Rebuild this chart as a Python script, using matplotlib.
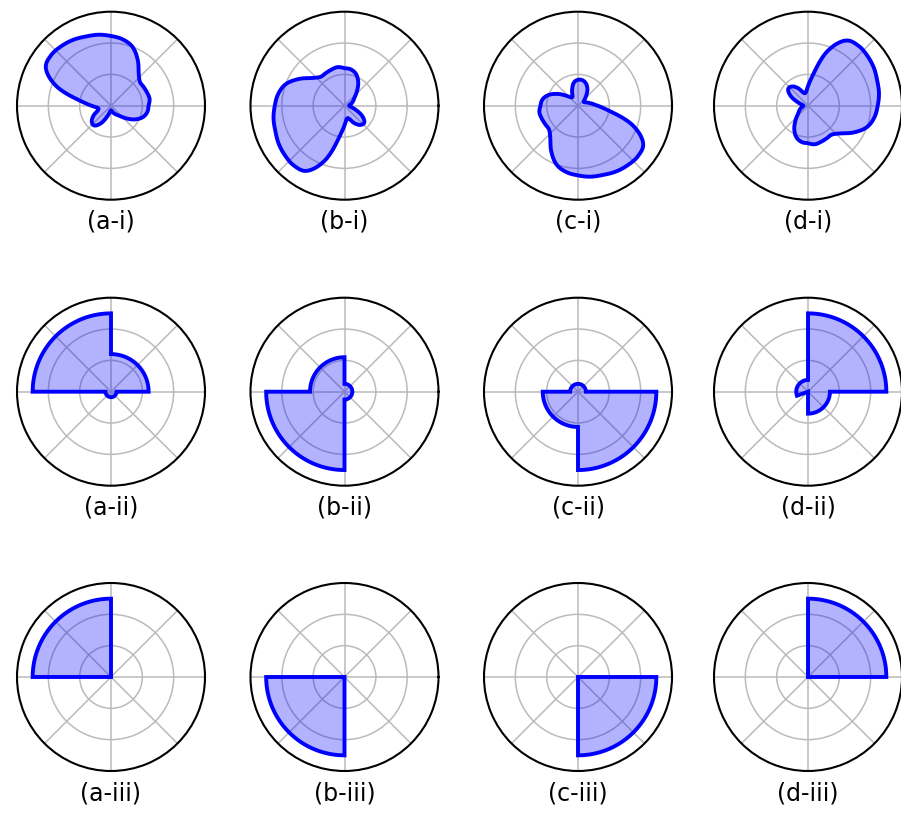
import numpy as np
import matplotlib
matplotlib.use("Agg")
import matplotlib.pyplot as plt

W, H, DPI = 901, 816, 100

# ---------------- data ----------------
col_letters = ["a", "b", "c", "d"]
row_numerals = ["i", "ii", "iii"]

# Row 1: radius read every 10 degrees (0..350)
angles_row1 = list(range(0, 360, 10))
r_a_i = [0.48, 0.50, 0.49, 0.48, 0.48, 0.55, 0.68, 0.80, 0.86, 0.89, 0.92, 0.94,
         0.97, 0.99, 1.00, 0.96, 0.75, 0.42, 0.25, 0.17, 0.18, 0.26, 0.32, 0.33,
         0.26, 0.15, 0.08, 0.06, 0.07, 0.10, 0.13, 0.17, 0.25, 0.35, 0.43, 0.47]
r_b_i = [0.06, 0.07, 0.10, 0.13, 0.17, 0.25, 0.35, 0.43, 0.47, 0.48, 0.50, 0.49,
         0.48, 0.48, 0.55, 0.68, 0.80, 0.86, 0.89, 0.92, 0.94, 0.97, 0.99, 1.00,
         0.96, 0.75, 0.42, 0.25, 0.17, 0.18, 0.26, 0.32, 0.33, 0.26, 0.15, 0.08]
r_c_i = [0.25, 0.17, 0.12, 0.09, 0.10, 0.16, 0.24, 0.30, 0.33, 0.33, 0.30, 0.22,
         0.14, 0.14, 0.20, 0.30, 0.40, 0.46, 0.48, 0.50, 0.49, 0.48, 0.48, 0.55,
         0.68, 0.80, 0.86, 0.89, 0.92, 0.94, 0.97, 0.99, 1.00, 0.96, 0.75, 0.42]
r_d_i = [0.89, 0.92, 0.94, 0.97, 0.99, 1.00, 0.96, 0.75, 0.42, 0.25, 0.17, 0.18,
         0.26, 0.32, 0.33, 0.26, 0.15, 0.08, 0.06, 0.07, 0.10, 0.13, 0.17, 0.25,
         0.35, 0.43, 0.47, 0.48, 0.50, 0.49, 0.48, 0.48, 0.55, 0.68, 0.80, 0.86]

# Rows 2 and 3: piecewise-constant radius segments (start_deg, end_deg, radius)
seg_a_ii = [(0, 90, 0.48), (90, 180, 1.0), (180, 360, 0.07)]
seg_b_ii = [(0, 90, 0.10), (90, 180, 0.44), (180, 270, 1.0), (270, 360, 0.10)]
seg_c_ii = [(0, 180, 0.10), (180, 270, 0.45), (270, 360, 1.0)]
seg_d_ii = [(0, 90, 1.0), (90, 200, 0.15), (200, 270, 0.0), (270, 360, 0.28)]

seg_a_iii = [(0, 90, 0.0), (90, 180, 1.0), (180, 360, 0.0)]
seg_b_iii = [(0, 180, 0.0), (180, 270, 1.0), (270, 360, 0.0)]
seg_c_iii = [(0, 270, 0.0), (270, 360, 1.0)]
seg_d_iii = [(0, 90, 1.0), (90, 360, 0.0)]

row1 = [r_a_i, r_b_i, r_c_i, r_d_i]
row2 = [seg_a_ii, seg_b_ii, seg_c_ii, seg_d_ii]
row3 = [seg_a_iii, seg_b_iii, seg_c_iii, seg_d_iii]

# ---------------- layout ----------------
col_cx = [111, 344.5, 578, 808]
row_cy = [105.7, 391.7, 677]
R = 94
label_dy = 116
R_MAX = 1.2


def smooth_closed(theta_deg, r, n=24):
    th = np.deg2rad(np.asarray(theta_deg, float))
    r = np.asarray(r, float)
    N = len(r)
    step = 2 * np.pi / N
    ts, rs = [], []
    t = np.linspace(0, 1, n, endpoint=False)
    for i in range(N):
        p0, p1, p2, p3 = r[(i - 1) % N], r[i], r[(i + 1) % N], r[(i + 2) % N]
        rr = 0.5 * (2 * p1 + (-p0 + p2) * t + (2 * p0 - 5 * p1 + 4 * p2 - p3) * t ** 2
                    + (-p0 + 3 * p1 - 3 * p2 + p3) * t ** 3)
        ts.append(th[i] + t * step)
        rs.append(rr)
    ts = np.concatenate(ts)
    rs = np.clip(np.concatenate(rs), 0, None)
    return np.append(ts, ts[0]), np.append(rs, rs[0])


def segments_path(segs, n=60):
    ts, rs = [], []
    for a0, a1, rad in segs:
        th = np.deg2rad(np.linspace(a0, a1, n))
        ts.append(th)
        rs.append(np.full(n, rad))
    return np.concatenate(ts), np.concatenate(rs)


fig = plt.figure(figsize=(W / DPI, H / DPI), dpi=DPI)

for ri in range(3):
    for ci in range(4):
        cx, cy = col_cx[ci], row_cy[ri]
        ax = fig.add_axes([(cx - R) / W, 1 - (cy + R) / H, 2 * R / W, 2 * R / H],
                          projection="polar")
        if ri == 0:
            th, rr = smooth_closed(angles_row1, row1[ci])
        elif ri == 1:
            th, rr = segments_path(row2[ci])
        else:
            th, rr = segments_path(row3[ci])
        ax.fill(th, rr, facecolor=(0, 0, 1, 0.3), edgecolor="blue", linewidth=2.8,
                joinstyle="miter", zorder=3)
        ax.set_ylim(0, R_MAX)
        ax.set_yticks([0.4, 0.8])
        ax.set_yticklabels([])
        ax.set_xticks(np.deg2rad(np.arange(0, 360, 45)))
        ax.set_xticklabels([])
        ax.grid(True, color="#bbbbbb", linewidth=1.1)
        ax.spines["polar"].set_linewidth(1.5)
        ax.spines["polar"].set_color("black")
        label = f"({col_letters[ci]}-{row_numerals[ri]})"
        fig.text(cx / W, 1 - (cy + label_dy) / H, label, ha="center", va="center",
                 fontsize=17, family="DejaVu Sans")

fig.savefig("out.png", dpi=DPI)
